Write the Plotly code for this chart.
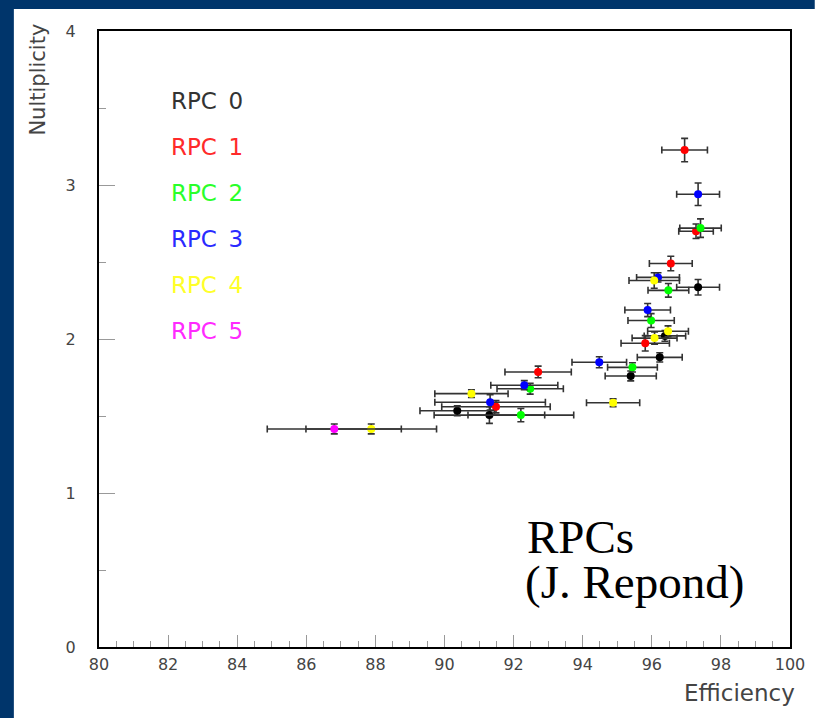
import plotly.graph_objects as go

# ---- data ----
series_names = ["RPC 0", "RPC 1", "RPC 2", "RPC 3", "RPC 4", "RPC 5"]
marker_colors = ["#000000", "#ff0000", "#00ff00", "#0000ff", "#ffff00", "#ff00ff"]
label_colors = ["#333333", "#ff2a2a", "#2aff2a", "#2a2aff", "#ffff2a", "#ff2aff"]

rpc0_x = [97.34, 96.38, 96.23, 95.39, 90.37, 91.30]
rpc0_y = [2.336, 2.02, 1.881, 1.76, 1.534, 1.506]
rpc0_xerr = [0.62, 0.60, 0.65, 0.74, 1.08, 1.60]
rpc0_yerr = [0.05, 0.035, 0.03, 0.032, 0.032, 0.054]

rpc1_x = [96.95, 97.28, 96.55, 95.81, 92.71, 91.49]
rpc1_y = [3.227, 2.70, 2.49, 1.972, 1.786, 1.56]
rpc1_xerr = [0.66, 0.50, 0.62, 0.70, 0.96, 1.57]
rpc1_yerr = [0.076, 0.047, 0.047, 0.05, 0.038, 0.04]

rpc2_x = [97.41, 96.48, 95.98, 95.44, 92.48, 92.21]
rpc2_y = [2.72, 2.316, 2.12, 1.816, 1.677, 1.506]
rpc2_xerr = [0.60, 0.59, 0.67, 0.72, 0.96, 1.53]
rpc2_yerr = [0.06, 0.044, 0.045, 0.03, 0.035, 0.043]

rpc3_x = [97.34, 96.18, 95.88, 94.48, 92.31, 91.32]
rpc3_y = [2.94, 2.40, 2.188, 1.849, 1.70, 1.589]
rpc3_xerr = [0.62, 0.62, 0.66, 0.79, 0.97, 1.60]
rpc3_yerr = [0.073, 0.03, 0.043, 0.036, 0.03, 0.05]

rpc4_x = [96.07, 96.47, 96.08, 90.78, 94.88, 87.88]
rpc4_y = [2.38, 2.05, 2.006, 1.645, 1.586, 1.416]
rpc4_xerr = [0.73, 0.59, 0.65, 1.06, 0.77, 1.89]
rpc4_yerr = [0.05, 0.035, 0.04, 0.025, 0.025, 0.032]

rpc5_x = [86.81]
rpc5_y = [1.416]
rpc5_xerr = [1.94]
rpc5_yerr = [0.032]

x_tick_vals = [80, 82, 84, 86, 88, 90, 92, 94, 96, 98, 100]
y_tick_vals = [0, 1, 2, 3, 4]

series = [
    (rpc0_x, rpc0_y, rpc0_xerr, rpc0_yerr),
    (rpc1_x, rpc1_y, rpc1_xerr, rpc1_yerr),
    (rpc2_x, rpc2_y, rpc2_xerr, rpc2_yerr),
    (rpc3_x, rpc3_y, rpc3_xerr, rpc3_yerr),
    (rpc4_x, rpc4_y, rpc4_xerr, rpc4_yerr),
    (rpc5_x, rpc5_y, rpc5_xerr, rpc5_yerr),
]

W, H = 817, 718
L, R, T, B = 99, 20, 31, 71
PW, PH = W - L - R, H - T - B


def px_x(p):
    return (p - L) / PW


def px_y(p):
    return (H - B - p) / PH


fig = go.Figure()
for name, col, (xs, ys, xe, ye) in zip(series_names, marker_colors, series):
    fig.add_trace(go.Scatter(
        x=xs, y=ys, mode="markers", name=name,
        marker=dict(color=col, size=8, line=dict(width=0)),
        error_x=dict(type="data", array=xe, visible=True, color="#333333",
                     thickness=1.6, width=3.5),
        error_y=dict(type="data", array=ye, visible=True, color="#333333",
                     thickness=1.6, width=3.5),
        showlegend=False,
    ))

tick_font = dict(family="DejaVu Sans", size=16, color="#444444")

fig.update_xaxes(
    range=[80, 100], tickvals=x_tick_vals, ticks="inside", ticklen=12,
    tickcolor="#999999", tickwidth=1, showgrid=False, zeroline=False,
    showline=True, linecolor="black", linewidth=2, mirror=True,
    tickfont=tick_font, ticklabelstandoff=2,
    minor=dict(dtick=0.5, ticks="inside", ticklen=6, tickcolor="#999999", tickwidth=1),
)
fig.update_yaxes(
    range=[0, 4], tickvals=y_tick_vals, ticks="inside", ticklen=16,
    tickcolor="#999999", tickwidth=1, showgrid=False, zeroline=False,
    showline=True, linecolor="black", linewidth=2, mirror=True,
    tickfont=tick_font, ticklabelstandoff=18,
    minor=dict(dtick=0.5, ticks="inside", ticklen=7, tickcolor="#999999", tickwidth=1),
)

annotations = []
# legend-like labels
for i, (name, col) in enumerate(zip(series_names, label_colors)):
    annotations.append(dict(
        x=px_x(170), y=px_y(100.5 + 46 * i), xref="paper", yref="paper",
        text=name.replace(" ", "\u2002"), showarrow=False, xanchor="left",
        yanchor="middle",
        font=dict(family="DejaVu Sans", size=23, color=col),
    ))
# axis titles
annotations.append(dict(
    x=px_x(37), y=px_y(80), xref="paper", yref="paper", text="Nultiplicity",
    textangle=-90, showarrow=False, xanchor="center", yanchor="middle",
    font=dict(family="DejaVu Sans", size=21, color="#444444"),
))
annotations.append(dict(
    x=px_x(804), y=px_y(693), xref="paper", yref="paper", text="Efficiency",
    showarrow=False, xanchor="right", yanchor="middle",
    font=dict(family="DejaVu Sans", size=23, color="#444444"),
))
# RPCs (J. Repond)
annotations.append(dict(
    x=px_x(529), y=px_y(537), xref="paper", yref="paper", text="RPCs",
    showarrow=False, xanchor="left", yanchor="middle",
    font=dict(family="Liberation Serif", size=47, color="black"),
))
annotations.append(dict(
    x=px_x(527), y=px_y(582), xref="paper", yref="paper", text="(J. Repond)",
    showarrow=False, xanchor="left", yanchor="middle",
    font=dict(family="Liberation Serif", size=47, color="black"),
))

navy = "#00356b"
shapes = [
    dict(type="rect", xref="paper", yref="paper", layer="above",
         x0=px_x(-5), x1=px_x(13), y0=px_y(H + 5), y1=px_y(-5),
         fillcolor=navy, line=dict(width=0)),
    dict(type="rect", xref="paper", yref="paper", layer="above",
         x0=px_x(-5), x1=px_x(W + 5), y0=px_y(9), y1=px_y(-5),
         fillcolor=navy, line=dict(width=0)),
]

fig.update_layout(
    width=W, height=H, margin=dict(l=L, r=R, t=T, b=B),
    paper_bgcolor="white", plot_bgcolor="white",
    annotations=annotations, shapes=shapes, showlegend=False,
)

fig.write_html("out.html", config={"displayModeBar": False},
               post_script="document.body.style.margin='0';document.body.style.overflow='hidden';")
